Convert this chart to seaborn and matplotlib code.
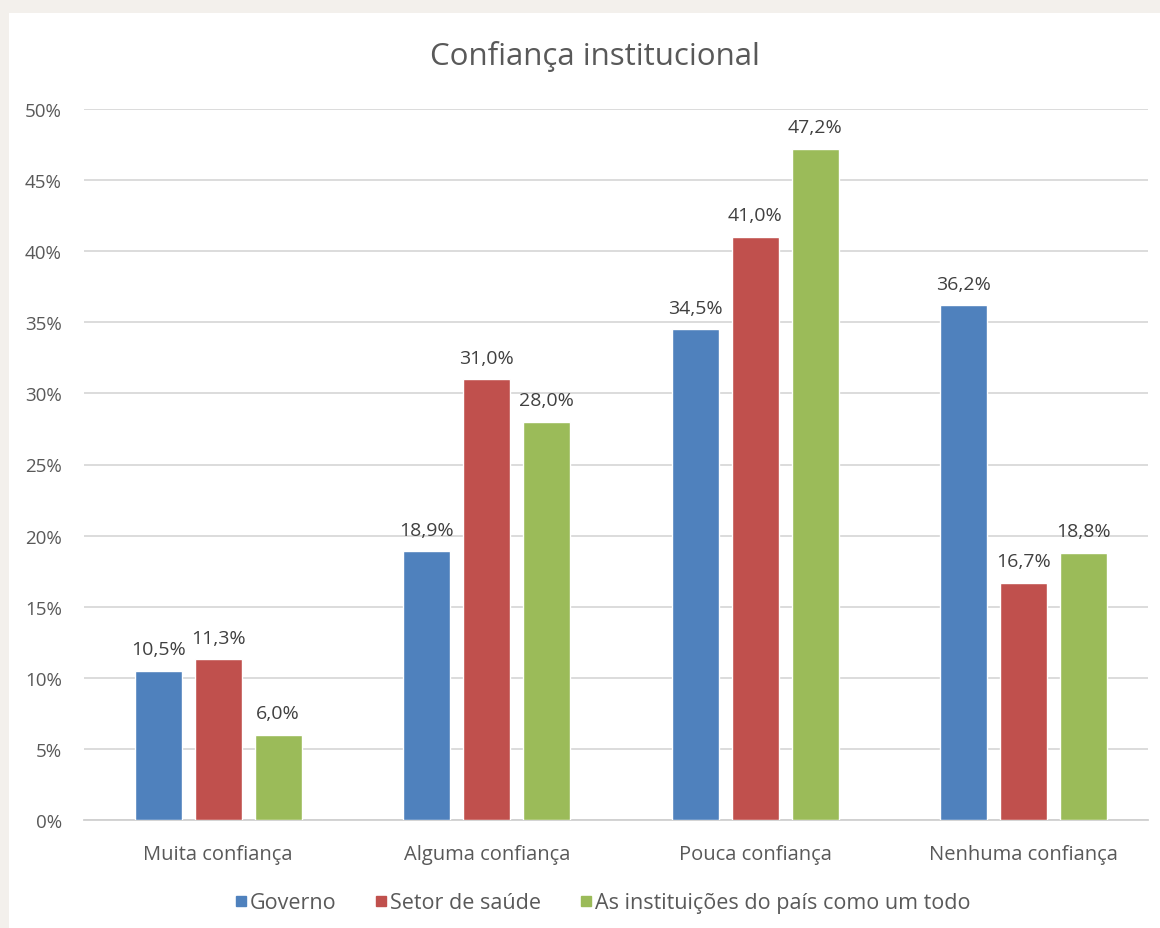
import pandas as pd
import numpy as np
import matplotlib
matplotlib.use('Agg')
import matplotlib.pyplot as plt
from matplotlib.patches import Rectangle
from matplotlib.lines import Line2D
import seaborn as sns

# dados do grafico
categorias = ['Muita confiança', 'Alguma confiança', 'Pouca confiança', 'Nenhuma confiança']
series = ['Governo', 'Setor de saúde', 'As instituições do país como um todo']
governo = [10.5, 18.9, 34.5, 36.2]
setor_saude = [11.3, 31.0, 41.0, 16.7]
instituicoes = [6.0, 28.0, 47.2, 18.8]
yticks = [0, 5, 10, 15, 20, 25, 30, 35, 40, 45, 50]

cores = ['#4F81BD', '#C0504D', '#9BBB59']

df = pd.DataFrame({
    'categoria': categorias * 3,
    'serie': [series[0]] * 4 + [series[1]] * 4 + [series[2]] * 4,
    'valor': governo + setor_saude + instituicoes,
})

sns.set_theme(style='white')
plt.rcParams['font.family'] = ['Open Sans', 'DejaVu Sans']

fig = plt.figure(figsize=(11.6, 9.29), dpi=100)
fig.patch.set_facecolor('#F3F0EC')
fig.patches.append(Rectangle((9 / 1160, 0), 1, 1 - 14 / 929, transform=fig.transFigure,
                             facecolor='white', edgecolor='none', zorder=-10))

ax = fig.add_axes([84 / 1160, 1 - 821 / 929, 1064 / 1160, 711 / 929])
ax.patch.set_alpha(0)

sns.barplot(data=df, x='categoria', y='valor', hue='serie', order=categorias,
            hue_order=series, palette=cores, width=0.67, gap=0.22,
            saturation=1, errorbar=None, ax=ax, legend=False, zorder=3)

for cont in ax.containers:
    vals = cont.datavalues
    ax.bar_label(cont, labels=[f'{v:.1f}%'.replace('.', ',') for v in vals],
                 padding=9, fontsize=14, color='#404040')

ax.set_ylim(0, 50)
ax.set_xlim(-0.5, 3.463)
ax.set_yticks(yticks)
ax.set_yticklabels([f'{v}%' for v in yticks])
ax.yaxis.grid(True, color='#D9D9D9', linewidth=1.3, zorder=0)
ax.set_axisbelow(True)
for s in ['top', 'right', 'left']:
    ax.spines[s].set_visible(False)
ax.spines['bottom'].set_color('#D0D0D0')
ax.spines['bottom'].set_linewidth(1.3)
ax.tick_params(axis='y', length=0, pad=16, labelsize=13.5, labelcolor='#595959')
ax.tick_params(axis='x', length=0, pad=17, labelsize=14.5, labelcolor='#595959')
ax.set_xlabel('')
ax.set_ylabel('')

fig.text(595 / 1160, 1 - 57 / 929, 'Confiança institucional', ha='center', va='center',
         fontsize=22.5, color='#595959')

handles = [Line2D([], [], marker='s', linestyle='none', markersize=7,
                  markerfacecolor=c, markeredgecolor=c) for c in cores]
fig.legend(handles, series, loc='center', bbox_to_anchor=(600 / 1160, 1 - 904 / 929),
           ncol=3, frameon=False, fontsize=15.5, handletextpad=-0.1, columnspacing=1.6,
           handlelength=1.0, labelcolor='#595959')

fig.savefig('out.png', dpi=100, facecolor=fig.get_facecolor())
